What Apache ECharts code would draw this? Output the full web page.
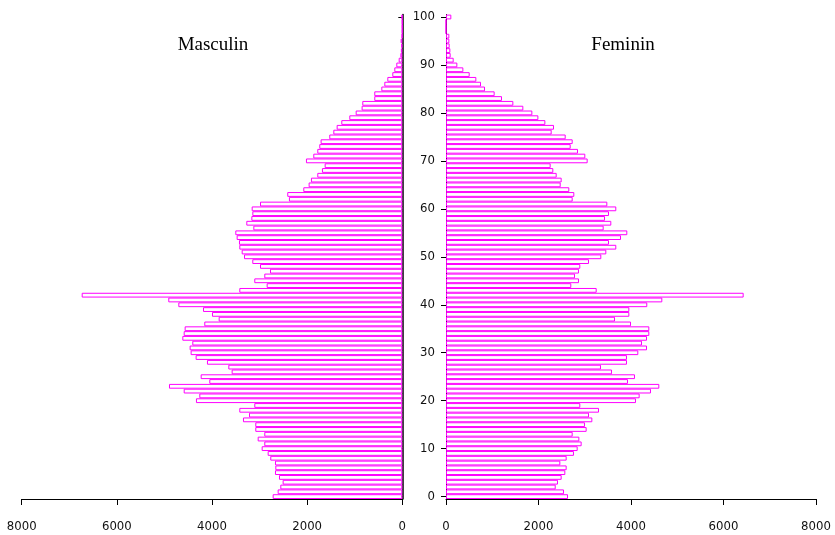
<!DOCTYPE html>
<html>
<head>
<meta charset="utf-8">
<script src="https://cdn.jsdelivr.net/npm/echarts@6/dist/echarts.min.js"></script>
<style>
html,body{margin:0;padding:0;background:#fff;}
#chart{width:835px;height:535px;}
</style>
</head>
<body>
<div id="chart"></div>
<script>
// Ages 0..100
var ages = [];
for (var i = 0; i <= 100; i++) ages.push(String(i));

// Male population by age (left side)
var male = [
2725,2620,2564,2515,2592,2676,2669,2676,2775,2830,
2956,2901,3040,2901,3090,3090,3349,3222,3426,3111,
4337,4267,4595,4904,4057,4238,3587,3657,4106,4344,
4449,4470,4414,4624,4595,4575,4162,3860,4000,4189,
4708,4919,6739,3426,2851,3111,2901,2781,2991,3153,
3327,3376,3426,3433,3482,3510,3131,3279,3173,3152,
3166,2991,2383,2418,2081,1969,1920,1787,1689,1632,
2025,1871,1787,1745,1717,1535,1450,1380,1282,1114,
980,855,841,589,589,441,378,315,210,168,
126,76,40,30,20,35,10,5,5,5,
10
];

// Female population by age (right side)
var female = [
2638,2551,2372,2421,2501,2580,2609,2472,2609,2767,
2847,2933,2883,2739,3041,3005,3164,3092,3308,2904,
4108,4187,4432,4612,3935,4086,3589,3351,3913,3913,
4158,4346,4238,4346,4396,4396,4000,3654,3964,3964,
4352,4677,6436,3258,2709,2875,2789,2875,2904,3092,
3358,3466,3682,3524,3784,3920,3409,3574,3438,3524,
3682,3488,2739,2774,2666,2480,2501,2393,2320,2263,
3063,3012,2854,2696,2739,2588,2285,2335,2148,1997,
1867,1672,1456,1211,1052,843,757,656,512,375,
245,166,101,94,79,72,72,0,0,0,
115
];

var xTicks = [0, 2000, 4000, 6000, 8000];
var titles = ['Masculin', 'Feminin'];

var tickFont = "'Liberation Sans Narrow', 'DejaVu Sans Condensed', 'Liberation Sans', sans-serif";
var axisColor = '#000';
var barStyle = { color: '#ffffff', borderColor: '#ff00ff', borderWidth: 1 };

var chart = echarts.init(document.getElementById('chart'), null, { renderer: 'canvas' });

function xAxisCfg(gridIndex, inverse) {
  return {
    type: 'value', gridIndex: gridIndex, inverse: inverse,
    min: xTicks[0], max: xTicks[xTicks.length - 1], interval: 2000,
    splitLine: { show: false },
    axisLine: { show: true, lineStyle: { color: axisColor, width: 1 } },
    axisTick: { show: true, length: 6, lineStyle: { color: axisColor } },
    axisLabel: { color: '#111', fontFamily: tickFont, fontSize: 13, margin: 21,
      formatter: function (v) { return String(v); } }
  };
}

chart.setOption({
  animation: false,
  backgroundColor: '#ffffff',
  grid: [
    { left: 21.7, right: 432.7, top: 14.6, bottom: 36 },
    { left: 446, right: 19, top: 14.6, bottom: 36 }
  ],
  xAxis: [ xAxisCfg(0, true), xAxisCfg(1, false) ],
  yAxis: [
    {
      type: 'category', gridIndex: 0, data: ages, position: 'right',
      axisLine: { show: true, lineStyle: { color: axisColor, width: 1.5 } },
      axisTick: { show: true, inside: true, length: 4, interval: 9, alignWithLabel: true, lineStyle: { color: axisColor } },
      axisLabel: { show: false }
    },
    {
      type: 'category', gridIndex: 1, data: ages, position: 'left',
      axisLine: { show: true, lineStyle: { color: axisColor, width: 1 } },
      axisTick: { show: true, length: 5, interval: 9, alignWithLabel: true, lineStyle: { color: axisColor } },
      axisLabel: { interval: 9, color: '#111', fontFamily: tickFont, fontSize: 13, margin: 11 }
    }
  ],
  series: [
    { type: 'bar', xAxisIndex: 0, yAxisIndex: 0, data: male, barCategoryGap: 0, itemStyle: barStyle, silent: true },
    { type: 'bar', xAxisIndex: 1, yAxisIndex: 1, data: female, barCategoryGap: 0, itemStyle: barStyle, silent: true }
  ],
  graphic: [
    { type: 'text', x: 213, y: 45, style: { text: titles[0], font: "19px 'Liberation Serif', serif", fill: '#000', textAlign: 'center', textVerticalAlign: 'middle' } },
    { type: 'text', x: 623, y: 45, style: { text: titles[1], font: "19px 'Liberation Serif', serif", fill: '#000', textAlign: 'center', textVerticalAlign: 'middle' } }
  ]
});
</script>
</body>
</html>
